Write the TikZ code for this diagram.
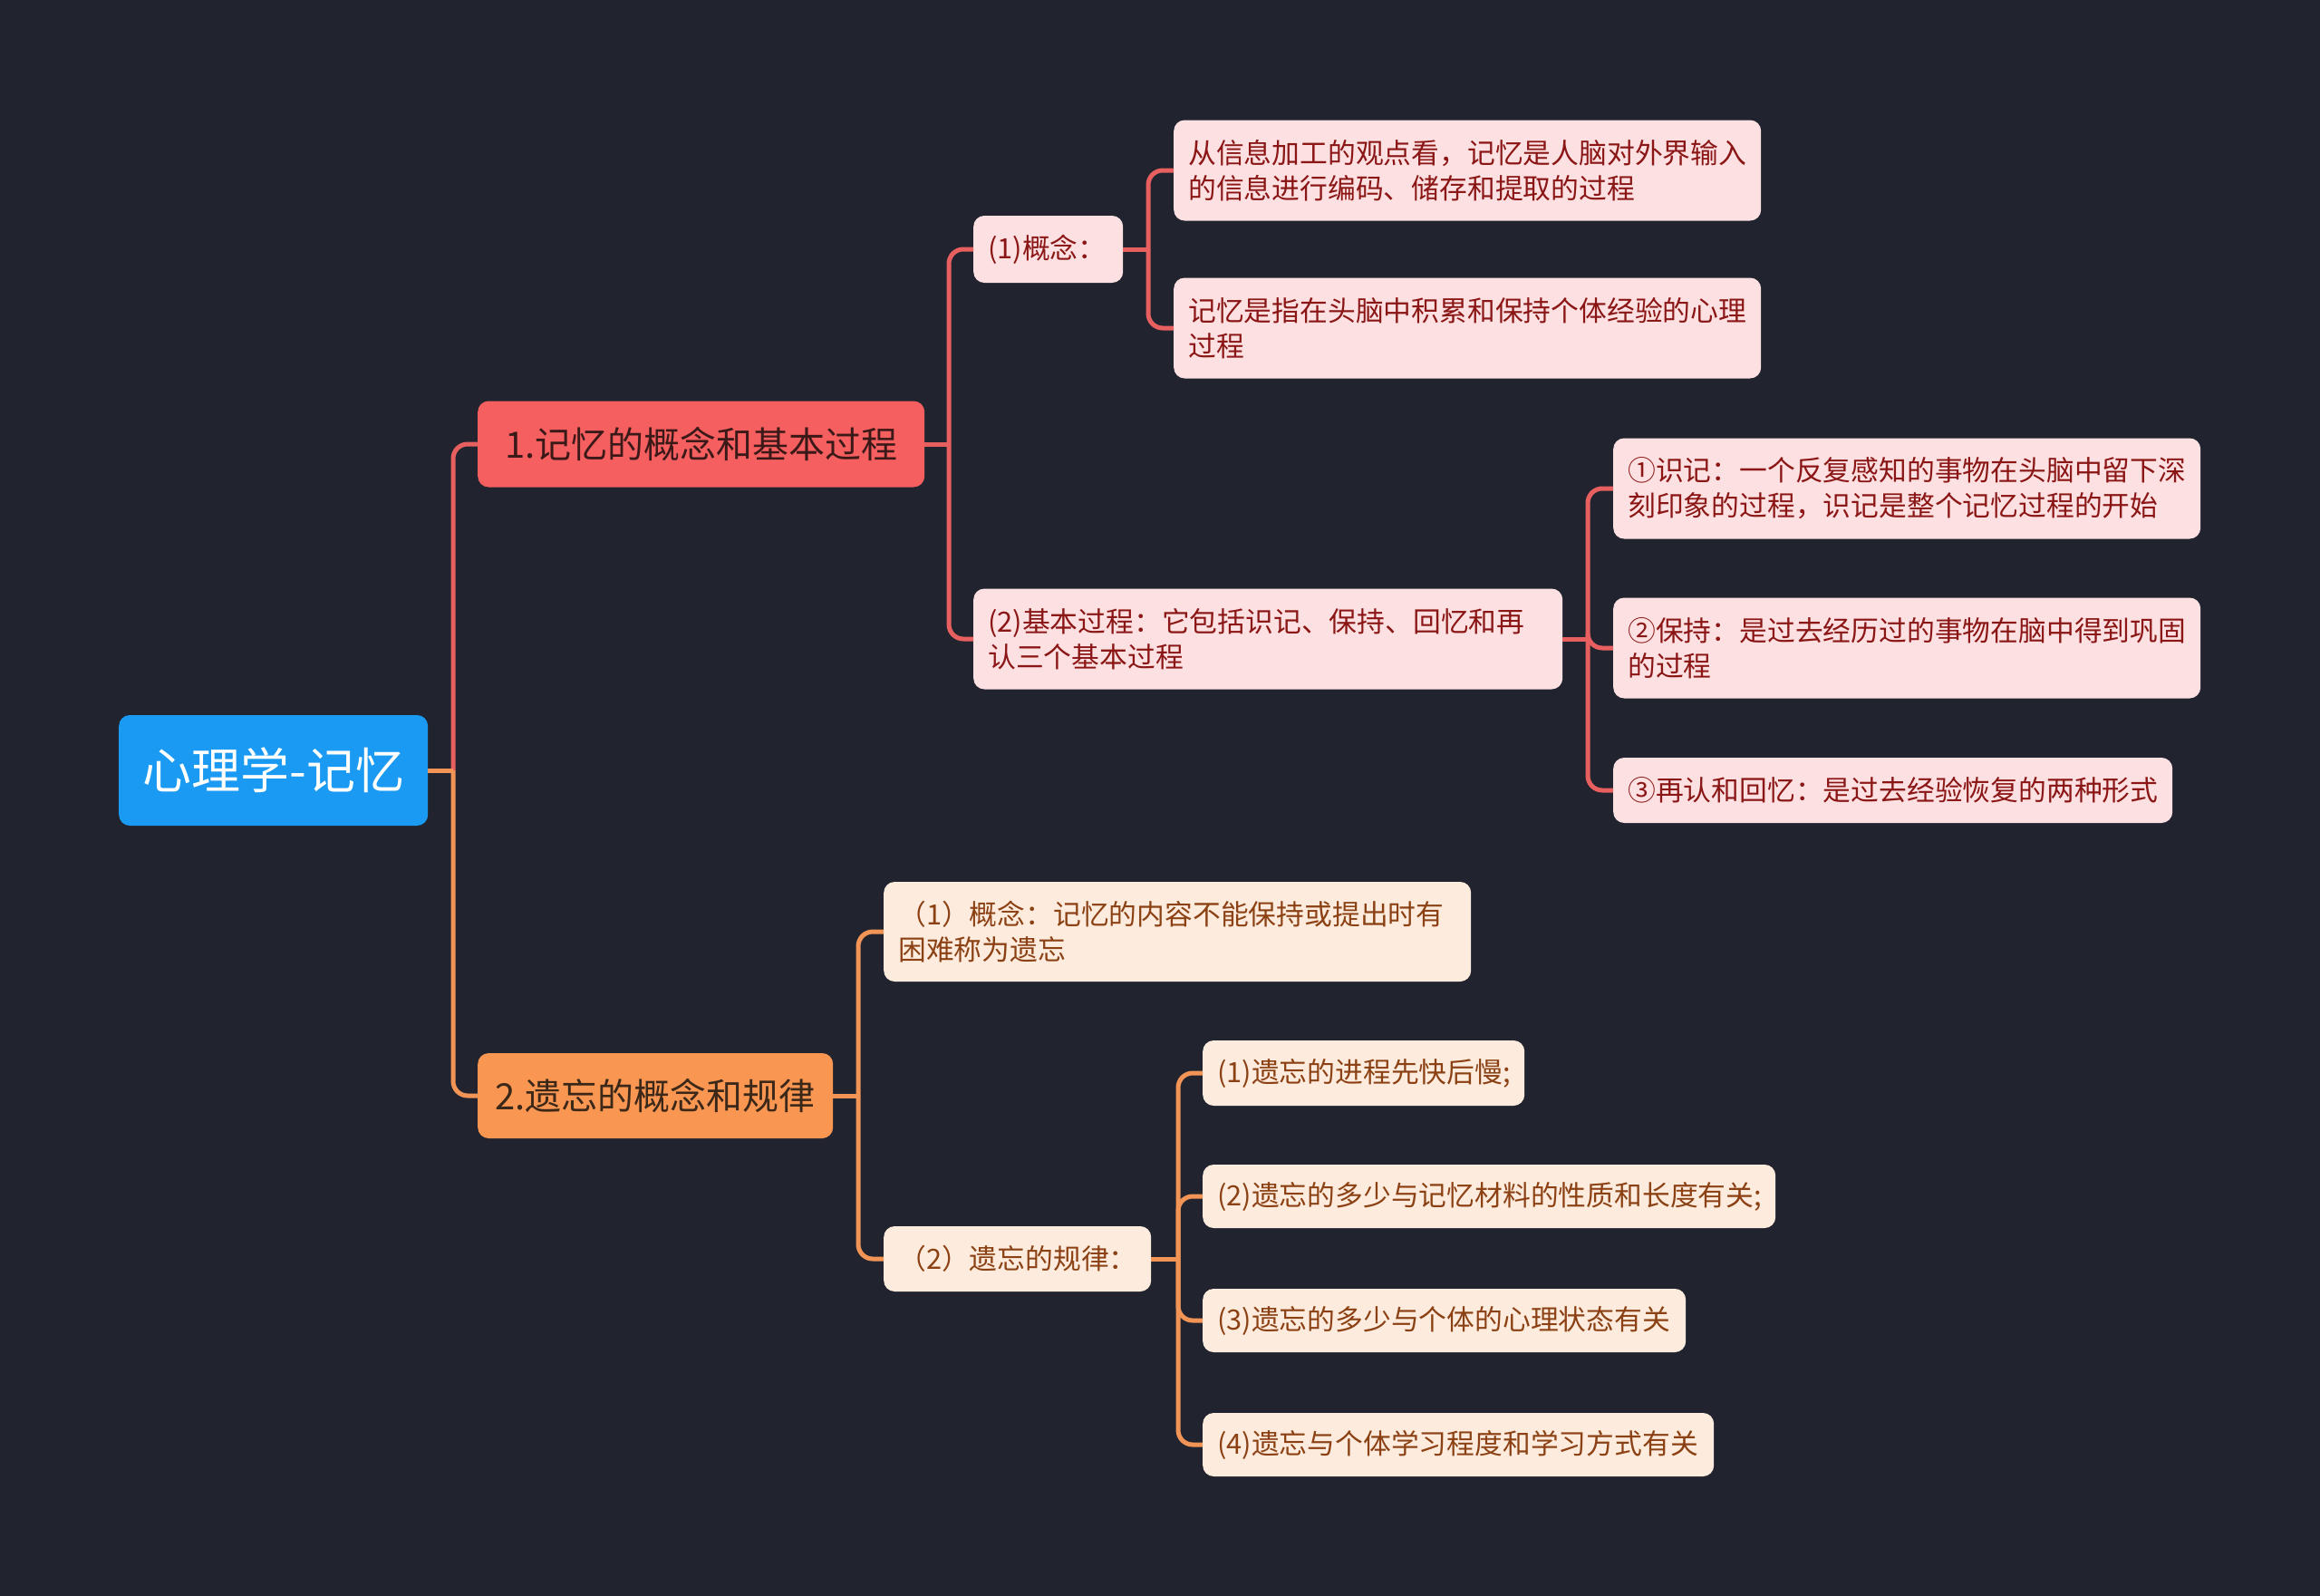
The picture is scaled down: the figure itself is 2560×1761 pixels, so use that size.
\documentclass[tikz,border=0pt]{standalone}
\usepackage{fontspec}
\newfontfamily\cjk{Noto Sans CJK SC}
\definecolor{bgc}{RGB}{33,36,47}
\definecolor{rootc}{RGB}{26,154,242}
\definecolor{brR}{RGB}{245,95,95}
\definecolor{brO}{RGB}{249,150,82}
\definecolor{lnRc}{RGB}{232,95,95}
\definecolor{lnOc}{RGB}{241,148,86}
\definecolor{lfRfill}{RGB}{253,224,225}
\definecolor{lfRtext}{RGB}{139,22,22}
\definecolor{lfOfill}{RGB}{253,236,222}
\definecolor{lfOtext}{RGB}{140,65,20}
\definecolor{brRtext}{RGB}{60,25,25}
\definecolor{brOtext}{RGB}{60,40,25}
\begin{document}
\begin{tikzpicture}[x=1pt,y=-1pt,
  box/.style={rounded corners=12pt, inner xsep=16pt, inner ysep=0pt, anchor=west},
  rootbox/.style={box, fill=rootc, text=white, align=center, font=\cjk\fontsize{54}{60}\selectfont},
  brRbox/.style={box, fill=brR, text=brRtext, align=center, font=\cjk\fontsize{40}{46}\selectfont},
  brObox/.style={box, fill=brO, text=brOtext, align=center, font=\cjk\fontsize{40}{46}\selectfont},
  leafR/.style={box, fill=lfRfill, text=lfRtext, align=left, font=\cjk\fontsize{30.8}{39}\selectfont},
  leafO/.style={box, fill=lfOfill, text=lfOtext, align=left, font=\cjk\fontsize{30.8}{39}\selectfont},
  lnR/.style={draw=lnRc, line width=5pt, rounded corners=16pt},
  lnO/.style={draw=lnOc, line width=5pt, rounded corners=16pt}]
\fill[bgc] (0,0) rectangle (2560,1761);
\useasboundingbox (0,0) rectangle (2560,1761);

% junction coordinates
\coordinate (j0) at (500,850);
\coordinate (j1) at (1047,490);
\coordinate (j11) at (1267,275);
\coordinate (j12) at (1752,705);
\coordinate (j2) at (947,1209);
\coordinate (j22) at (1300,1389);

% nodes
\node[rootbox, minimum width=341pt, minimum height=122pt] (root) at (131,850) {心理学-记忆};
\node[brRbox, minimum width=493pt, minimum height=95pt] (b1) at (527,490) {1.记忆的概念和基本过程};
\node[brObox, minimum width=392pt, minimum height=94pt] (b2) at (527,1209) {2.遗忘的概念和规律};

\node[leafR, text width=133pt, minimum height=74pt] (c1) at (1074,275) {(1)概念：};
\node[leafR, text width=618pt, minimum height=111pt] (c2) at (1074,705) {(2)基本过程：它包括识记、保持、回忆和再\\认三个基本过程};

\node[leafR, text width=616pt, minimum height=111pt] (c1a) at (1295,188) {从信息加工的观点看，记忆是人脑对外界输入\\的信息进行编码、储存和提取的过程};
\node[leafR, text width=616pt, minimum height=111pt] (c1b) at (1295,362) {记忆是指在头脑中积累和保持个体经验的心理\\过程};

\node[leafR, text width=616pt, minimum height=111pt] (c2a) at (1780,539) {①识记：一个反复感知的事物在头脑中留下深\\刻印象的过程，识记是整个记忆过程的开始};
\node[leafR, text width=616pt, minimum height=111pt] (c2b) at (1780,715) {②保持：是过去经历过的事物在脑中得到巩固\\的过程};
\node[leafR, text width=585pt, minimum height=72pt] (c2c) at (1780,872) {③再认和回忆：是过去经验恢复的两种形式};

\node[leafO, text width=616pt, minimum height=110pt] (o1) at (975,1028) {（1）概念：记忆的内容不能保持或提出时有\\困难称为遗忘};
\node[leafO, text width=263pt, minimum height=72pt] (o2) at (975,1389) {（2）遗忘的规律：};

\node[leafO, text width=323pt, minimum height=72pt] (o2a) at (1327,1184) {(1)遗忘的进程先快后慢;};
\node[leafO, text width=600pt, minimum height=70pt] (o2b) at (1327,1320) {(2)遗忘的多少与记忆材料的性质和长度有关;};
\node[leafO, text width=501pt, minimum height=70pt] (o2c) at (1327,1457) {(3)遗忘的多少与个体的心理状态有关};
\node[leafO, text width=532pt, minimum height=70pt] (o2d) at (1327,1594) {(4)遗忘与个体学习程度和学习方式有关};

% connectors
\draw[lnR] (j0) |- (b1.west);
\draw[lnO] (root.east) -- (j0);
\draw[lnO] (j0) |- (b2.west);

\draw[lnR] (b1.east) -- (j1);
\draw[lnR] (j1) |- (c1.west);
\draw[lnR] (j1) |- (c2.west);

\draw[lnR] (c1.east) -- (j11);
\draw[lnR] (j11) |- (c1a.west);
\draw[lnR] (j11) |- (c1b.west);

\draw[lnR] (c2.east) -- (j12);
\draw[lnR] (j12) |- (c2a.west);
\draw[lnR] (j12) |- (c2b.west);
\draw[lnR] (j12) |- (c2c.west);

\draw[lnO] (b2.east) -- (j2);
\draw[lnO] (j2) |- (o1.west);
\draw[lnO] (j2) |- (o2.west);

\draw[lnO] (o2.east) -- (j22);
\draw[lnO] (j22) |- (o2a.west);
\draw[lnO] (j22) |- (o2b.west);
\draw[lnO] (j22) |- (o2c.west);
\draw[lnO] (j22) |- (o2d.west);
\end{tikzpicture}
\end{document}
